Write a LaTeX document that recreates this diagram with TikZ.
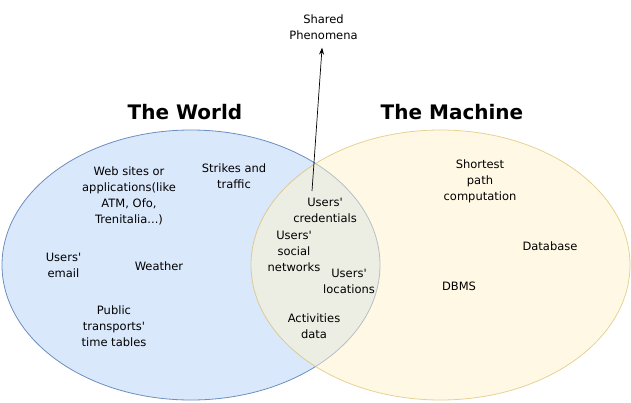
\documentclass[tikz,border=0pt]{standalone}
\usepackage{fontspec}
\setmainfont{DejaVu Sans}[Ligatures=TeXOff]
\usetikzlibrary{arrows.meta}
\definecolor{wfill}{HTML}{DAE8FC}
\definecolor{wdraw}{HTML}{6C8EBF}
\definecolor{mfill}{HTML}{FFF2CC}
\definecolor{mdraw}{HTML}{D6B656}
\tikzset{
  lbl/.style={align=center, inner sep=0pt, font=\fontsize{11.5}{16}\selectfont},
  ttl/.style={inner sep=0pt, font=\bfseries\fontsize{20}{24}\selectfont},
  world/.style={fill=wfill, draw=wdraw, line width=0.8pt},
  machine/.style={fill=mfill, draw=mdraw, fill opacity=0.5, draw opacity=0.6, line width=0.8pt},
  conn/.style={-{Stealth[length=7pt,width=5pt]}, line width=0.7pt}
}
\begin{document}
\begin{tikzpicture}[x=1pt,y=-1pt]
\useasboundingbox (0,0) rectangle (631,402);
\draw[world] (191,265) ellipse [x radius=189, y radius=135];
\draw[machine] (440.5,265) ellipse [x radius=189.5, y radius=135];

\node[ttl] (tw) at (185,112) {The World};
\node[ttl] (tm) at (452,112) {The Machine};

\node[lbl, inner sep=8pt] (sp) at (323.5,27) {Shared\\Phenomena};
\coordinate (tail) at (312,191);
\draw[conn] (tail) -- (sp);

\node[lbl] (web) at (129,196) {Web sites or\\applications(like\\ATM, Ofo,\\Trenitalia...)};
\node[lbl] (str) at (234,176) {Strikes and\\traffic};
\node[lbl] (em) at (63.5,265.5) {Users'\\email};
\node[lbl] (wea) at (159,266) {Weather};
\node[lbl] (pub) at (114,326) {Public\\transports'\\time tables};

\node[lbl] (cred) at (325,210.5) {Users'\\credentials};
\node[lbl] (soc) at (294,251) {Users'\\social\\networks};
\node[lbl] (loc) at (349,281) {Users'\\locations};
\node[lbl] (act) at (314,326) {Activities\\data};

\node[lbl] (sh) at (480,181) {Shortest\\path\\computation};
\node[lbl] (db) at (550,246) {Database};
\node[lbl] (dbms) at (459,286) {DBMS};
\end{tikzpicture}
\end{document}
